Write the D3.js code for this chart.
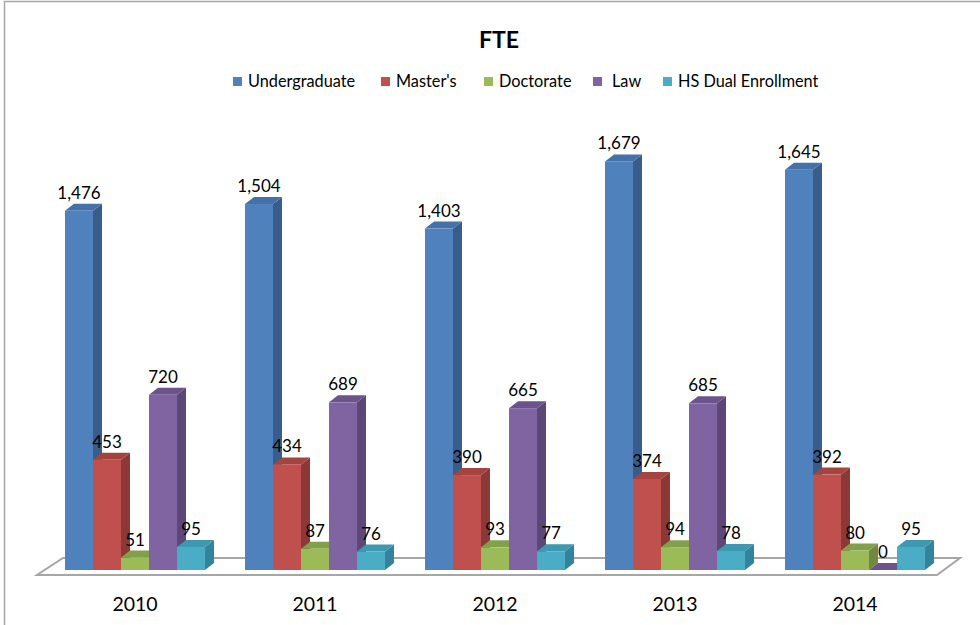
<!DOCTYPE html>
<html lang="en">
<head>
    <meta charset="UTF-8">
    <title>FTE</title>
    <script src="https://d3js.org/d3.v7.min.js"></script>
    <style>
        body { margin: 0; background: #fff; }
        text { font-family: Lato, "Open Sans", sans-serif; fill: #000; }
        .title { font-size: 23px; font-weight: bold; text-anchor: middle; }
        .legend text { font-size: 16.3px; }
        .label { font-size: 17px; text-anchor: middle; }
        .year { font-size: 19.5px; text-anchor: middle; }
    </style>
</head>
<body>
    <div id="chart"></div>
    <script>
        const years = ["2010", "2011", "2012", "2013", "2014"];
        const series = ["Undergraduate", "Master's", "Doctorate", "Law", "HS Dual Enrollment"];
        const undergraduate = [1476, 1504, 1403, 1679, 1645];
        const masters = [453, 434, 390, 374, 392];
        const doctorate = [51, 87, 93, 94, 80];
        const law = [720, 689, 665, 685, 0];
        const hsDual = [95, 76, 77, 78, 95];
        const values = [undergraduate, masters, doctorate, law, hsDual];

        const front = ["#4f81bd", "#c0504d", "#9bbb59", "#8064a2", "#4bacc6"];
        const side = ["#385d8a", "#8c3836", "#71893f", "#5c4776", "#31849b"];
        const topc = ["#4571a9", "#a5433f", "#82a04a", "#6c538b", "#3d98b0"];

        const width = 980, height = 625;
        const dx = 9, dy = -7;   // 3d depth offset

        const svg = d3.select("#chart").append("svg")
            .attr("width", width)
            .attr("height", height);

        // outer border
        svg.append("path")
            .attr("d", "M4.5,625 V1.5 H980")
            .attr("fill", "none")
            .attr("stroke", "#a6a6a6")
            .attr("stroke-width", 1.5);

        const x0 = d3.scaleBand()
            .domain(years)
            .range([45, 945])
            .paddingInner(0.222)
            .paddingOuter(0.111);

        const x1 = d3.scaleBand()
            .domain(series)
            .range([0, x0.bandwidth()]);

        const y = d3.scaleLinear()
            .domain([0, 1800])
            .range([570, 132]);

        // floor
        const fl = x0.range()[0] - 8, fr = x0.range()[1] - 8;
        svg.append("polygon")
            .attr("points", [[fl, 575], [fr, 575], [fr + 23, 558], [fl + 26, 558]].join(" "))
            .attr("fill", "#fff")
            .attr("stroke", "#a6a6a6")
            .attr("stroke-width", 2);

        // title
        svg.append("text")
            .attr("class", "title")
            .attr("x", 499)
            .attr("y", 48)
            .text("FTE");

        // legend
        const legendX = [233, 381, 484, 593, 663];
        const legend = svg.append("g").attr("class", "legend");
        series.forEach((s, i) => {
            legend.append("rect")
                .attr("x", legendX[i]).attr("y", 77)
                .attr("width", 9).attr("height", 9)
                .attr("fill", front[i]);
            legend.append("text")
                .attr("x", legendX[i] + 15 + (s === "Law" ? 4 : 0))
                .attr("y", 87)
                .text(s);
        });

        // bars
        years.forEach((yr, gi) => {
            const g = svg.append("g");
            series.forEach((s, si) => {
                const v = values[si][gi];
                const xl = x0(yr) + x1(s);
                const w = x1.bandwidth();
                const yt = y(v), yb = y(0);
                // side face
                g.append("polygon")
                    .attr("points", [[xl + w, yt], [xl + w + dx, yt + dy], [xl + w + dx, yb + dy], [xl + w, yb]].join(" "))
                    .attr("fill", side[si]);
                // top face
                g.append("polygon")
                    .attr("points", [[xl, yt], [xl + dx, yt + dy], [xl + w + dx, yt + dy], [xl + w, yt]].join(" "))
                    .attr("fill", topc[si]);
                // front face
                g.append("rect")
                    .attr("x", xl).attr("y", yt)
                    .attr("width", w).attr("height", yb - yt)
                    .attr("fill", front[si]);
            });
            series.forEach((s, si) => {
                const v = values[si][gi];
                g.append("text")
                    .attr("class", "label")
                    .attr("x", x0(yr) + x1(s) + x1.bandwidth() / 2)
                    .attr("y", y(v) - 12)
                    .text(d3.format(",")(v));
            });
            svg.append("text")
                .attr("class", "year")
                .attr("x", x0(yr) + x0.bandwidth() / 2)
                .attr("y", 611)
                .text(yr);
        });
    </script>
</body>
</html>
